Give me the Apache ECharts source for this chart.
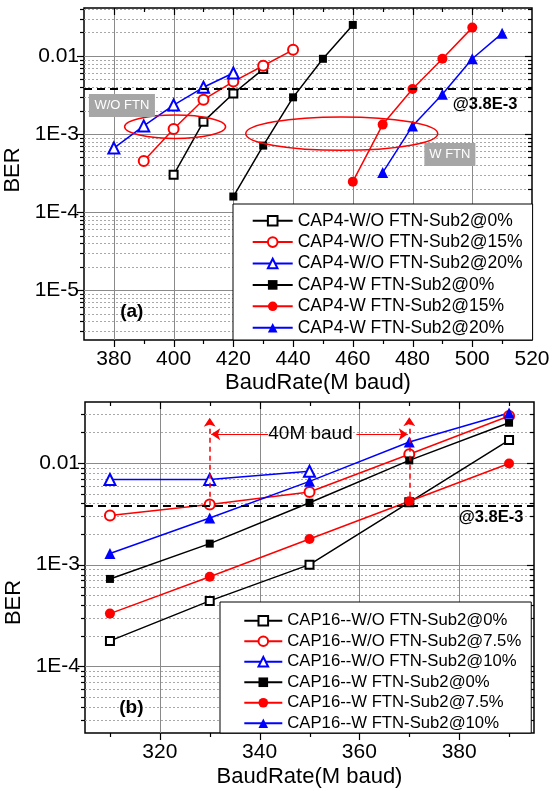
<!DOCTYPE html>
<html><head><meta charset="utf-8">
<script src="https://cdn.jsdelivr.net/npm/echarts@6/dist/echarts.min.js"></script>
<style>html,body{margin:0;padding:0;background:#fff}#c{width:553px;height:791px}</style>
</head><body><div id="c"></div>
<script>
// ---------- data: panel (a) ----------
const topNames = ['CAP4-W/O FTN-Sub2@0%','CAP4-W/O FTN-Sub2@15%','CAP4-W/O FTN-Sub2@20%','CAP4-W FTN-Sub2@0%','CAP4-W FTN-Sub2@15%','CAP4-W FTN-Sub2@20%'];
const topX_wo0  = [400, 410, 420, 430];
const topY_wo0  = [3.0e-4, 1.44e-3, 3.3e-3, 6.8e-3];
const topX_wo15 = [390, 400, 410, 420, 430, 440];
const topY_wo15 = [4.5e-4, 1.16e-3, 2.75e-3, 4.7e-3, 7.5e-3, 0.012];
const topX_wo20 = [380, 390, 400, 410, 420];
const topY_wo20 = [6.6e-4, 1.27e-3, 2.35e-3, 3.97e-3, 6.05e-3];
const topX_w0   = [420, 430, 440, 450, 460];
const topY_w0   = [1.58e-4, 7.1e-4, 2.95e-3, 9.2e-3, 0.025];
const topX_w15  = [460, 470, 480, 490, 500];
const topY_w15  = [2.45e-4, 1.32e-3, 3.77e-3, 9.2e-3, 0.0231];
const topX_w20  = [470, 480, 490, 500, 510];
const topY_w20  = [3.2e-4, 1.27e-3, 3.24e-3, 9.2e-3, 0.0195];
// ---------- data: panel (b) ----------
const botNames = ['CAP16--W/O FTN-Sub2@0%','CAP16--W/O FTN-Sub2@7.5%','CAP16--W/O FTN-Sub2@10%','CAP16--W FTN-Sub2@0%','CAP16--W FTN-Sub2@7.5%','CAP16--W FTN-Sub2@10%'];
const botX      = [310, 330, 350, 370, 390];
const botX_wo10 = [310, 330, 350];
const botY_wo0  = [1.78e-4, 4.4e-4, 1.0e-3, 4.1e-3, 0.0168];
const botY_wo75 = [3.04e-3, 3.9e-3, 5.19e-3, 0.0122, 0.029];
const botY_wo10 = [6.87e-3, 6.9e-3, 8.3e-3];
const botY_w0   = [7.24e-4, 1.61e-3, 4.07e-3, 0.0106, 0.0249];
const botY_w75  = [3.3e-4, 7.6e-4, 1.79e-3, 4.2e-3, 9.9e-3];
const botY_w10  = [1.29e-3, 2.88e-3, 6.6e-3, 0.0161, 0.031];
// ---------- axes / ticks ----------
const threshold = 3.8e-3;
const topXRange = [370, 520];
const botXRange = [305, 395];
const topXMajor = [380, 400, 420, 440, 460, 480, 500];
const topXMinor = [390, 410, 430, 450, 470, 490, 510];
const botXMajor = [320, 340, 360, 380];
const botXMinor = [310, 330, 350, 370, 390];

const FONT = 'Liberation Sans, Arial, sans-serif';
const colors = ['#000', '#ff0000', '#0000ff', '#000', '#ff0000', '#0000ff'];
const symbols = ['emptyRect', 'emptyCircle', 'emptyTriangle', 'rect', 'circle', 'triangle'];
const sizes = [8, 10, 11, 8, 10, 11];

function zip(xs, ys) { return xs.map((x, i) => [x, ys[i]]); }
function mk(name, xs, ys, k, g, extra) {
  return Object.assign({
    type: 'line', name: name, xAxisIndex: g * 2, yAxisIndex: g * 2, data: zip(xs, ys),
    symbol: symbols[k], symbolSize: sizes[k], showSymbol: true, z: 3,
    lineStyle: { color: colors[k], width: 1.5 }, itemStyle: { color: colors[k] },
    emphasis: { disabled: true }
  }, extra || {});
}
function thresholdLine(range) {
  return { silent: true, symbol: ['none', 'none'], label: { show: false },
    lineStyle: { color: '#000', type: [8, 5], width: 2 },
    data: [[{ coord: [range[0], threshold] }, { coord: [range[1], threshold] }]] };
}
function decorData(xMajors, xMinors, xLo, yLo, yHi) {
  const d = [];
  for (let e = Math.floor(Math.log10(yLo)); e <= Math.ceil(Math.log10(yHi)); e++) {
    for (let m = 1; m <= 9; m++) {
      const v = m * Math.pow(10, e);
      if (v > yLo * 1.0001 && v < yHi * 0.9999) d.push([xLo, v, m === 1 ? 1 : 0]);
    }
  }
  xMajors.forEach(x => d.push([x, yLo, 3]));
  xMinors.forEach(x => d.push([x, yLo, 2]));
  return d;
}
function renderDecor(params, api) {
  const cs = params.coordSys;
  const t = api.value(2);
  const p = api.coord([api.value(0), api.value(1)]);
  const L = cs.x, R = cs.x + cs.width, T = cs.y, B = cs.y + cs.height;
  const blk = { stroke: '#000', lineWidth: 1.2 };
  if (t <= 1) {
    const y = Math.round(p[1]) + 0.5, len = t ? 7 : 4;
    return { type: 'group', children: [
      { type: 'line', shape: { x1: L, y1: y, x2: R, y2: y },
        style: t ? { stroke: '#8a8a8a', lineWidth: 1 } : { stroke: '#a8a8a8', lineWidth: 1, lineDash: [2, 2] } },
      { type: 'line', shape: { x1: L - len, y1: y, x2: L, y2: y }, style: blk },
      { type: 'line', shape: { x1: R - len, y1: y, x2: R, y2: y }, style: blk }
    ] };
  }
  const x = Math.round(p[0]) + 0.5, len = t === 3 ? 7 : 4;
  const ch = [
    { type: 'line', shape: { x1: x, y1: B, x2: x, y2: B + len }, style: blk },
    { type: 'line', shape: { x1: x, y1: T, x2: x, y2: T + len }, style: blk }
  ];
  if (t === 3) ch.unshift({ type: 'line', shape: { x1: x, y1: T, x2: x, y2: B }, style: { stroke: '#8a8a8a', lineWidth: 1 } });
  return { type: 'group', children: ch };
}
function decenaryLabel(v) {
  const e = Math.log10(v), r = Math.round(e);
  if (Math.abs(e - r) > 1e-6) return '';
  return r === -2 ? '0.01' : '1E' + r;
}

const topYMin = 2.29e-6, topYMax = 0.0412;
const botYMin = 2.21e-5, botYMax = 0.0398;

function xAxisCfg(g, range, interval, nameGap, namePad) {
  return [{
    type: 'value', gridIndex: g, min: range[0], max: range[1], interval: interval, position: 'bottom',
    axisLine: { show: false }, axisTick: { show: false }, splitLine: { show: false },
    axisLabel: { formatter: v => (v % 20 === 0 ? String(v) : ''), fontSize: 21, fontFamily: FONT, color: '#000', margin: 9 },
    name: 'BaudRate(M baud)', nameLocation: 'middle', nameGap: nameGap,
    nameTextStyle: { fontSize: 22, fontFamily: FONT, color: '#000', padding: namePad }
  }, {
    type: 'value', gridIndex: g, min: range[0], max: range[1], interval: interval, position: 'top',
    axisLine: { show: false }, axisTick: { show: false }, splitLine: { show: false }, axisLabel: { show: false }
  }];
}
function yAxisCfg(g, min, max, nameGap, namePad) {
  return [{
    type: 'log', logBase: 10, gridIndex: g, min: min, max: max, position: 'left',
    axisLine: { show: false }, axisTick: { show: false }, splitLine: { show: false }, minorTick: { show: false },
    axisLabel: { formatter: decenaryLabel, fontSize: 21, fontFamily: FONT, color: '#000', margin: 5 },
    name: 'BER', nameLocation: 'middle', nameGap: nameGap,
    nameTextStyle: { fontSize: 22, fontFamily: FONT, color: '#000', padding: namePad }
  }, {
    type: 'log', logBase: 10, gridIndex: g, min: min, max: max, position: 'right',
    axisLine: { show: false }, axisTick: { show: false }, splitLine: { show: false }, axisLabel: { show: false }
  }];
}
function legendCfg(names, left, top, pad, fs, lh, gap, iw) {
  return {
    orient: 'vertical', left: left, top: top, data: names, selectedMode: false,
    itemWidth: iw, itemHeight: 12, itemGap: gap, padding: pad,
    backgroundColor: '#fff', borderColor: '#000', borderWidth: 1,
    textStyle: { fontSize: fs, fontFamily: FONT, color: '#000', lineHeight: lh }
  };
}

const chart = echarts.init(document.getElementById('c'), null, { renderer: 'canvas' });
chart.setOption({
  animation: false,
  backgroundColor: '#fff',
  grid: [
    { left: 84, top: 8, width: 448, height: 332, show: true, borderColor: '#000', borderWidth: 1.5, outerBoundsMode: 'none' },
    { left: 85, top: 402, width: 449, height: 331, show: true, borderColor: '#000', borderWidth: 1.5, outerBoundsMode: 'none' }
  ],
  xAxis: xAxisCfg(0, topXRange, 10, 32, [0, 0, 0, 20]).concat(xAxisCfg(1, botXRange, 5, 33, [0, 0, 0, 0])),
  yAxis: yAxisCfg(0, topYMin, topYMax, 53, [0, 0, 0, 8]).concat(yAxisCfg(1, botYMin, botYMax, 56, [0, 70, 0, 0])),
  legend: [
    legendCfg(topNames, 233, 204, [6.7, 10, 2.3, 18.7], 17.5, 20, 1.4, 40),
    legendCfg(botNames, 220, 602, [9, 10, 0, 23.3], 16.7, 19.5, 1, 38)
  ],
  series: [
    { type: 'custom', xAxisIndex: 0, yAxisIndex: 0, z: 1, silent: true, clip: false,
      dimensions: ['x', 'y', 't'], encode: { x: 0, y: 1 },
      data: decorData(topXMajor, topXMinor, topXRange[0], topYMin, topYMax), renderItem: renderDecor },
    { type: 'custom', xAxisIndex: 2, yAxisIndex: 2, z: 1, silent: true, clip: false,
      dimensions: ['x', 'y', 't'], encode: { x: 0, y: 1 },
      data: decorData(botXMajor, botXMinor, botXRange[0], botYMin, botYMax), renderItem: renderDecor },
    mk(topNames[0], topX_wo0, topY_wo0, 0, 0, { markLine: thresholdLine(topXRange) }),
    mk(topNames[1], topX_wo15, topY_wo15, 1, 0),
    mk(topNames[2], topX_wo20, topY_wo20, 2, 0),
    mk(topNames[3], topX_w0, topY_w0, 3, 0),
    mk(topNames[4], topX_w15, topY_w15, 4, 0),
    mk(topNames[5], topX_w20, topY_w20, 5, 0),
    mk(botNames[0], botX, botY_wo0, 0, 1, { markLine: thresholdLine(botXRange) }),
    mk(botNames[1], botX, botY_wo75, 1, 1),
    mk(botNames[2], botX_wo10, botY_wo10, 2, 1),
    mk(botNames[3], botX, botY_w0, 3, 1),
    mk(botNames[4], botX, botY_w75, 4, 1, {
      markLine: {
        silent: true, symbol: ['none', 'arrow'], symbolSize: 9, label: { show: false },
        lineStyle: { color: '#ff0000', width: 1.5, type: [5, 4] },
        data: [
          [{ coord: [330, threshold] }, { coord: [330, 0.0278] }],
          [{ coord: [370, threshold] }, { coord: [370, 0.0281] }],
          [{ coord: [341.7, 0.0192], lineStyle: { type: 'solid', color: '#ff0000', width: 1.2 } }, { coord: [330.3, 0.0192] }],
          [{ coord: [359.4, 0.0192], lineStyle: { type: 'solid', color: '#ff0000', width: 1.2 } }, { coord: [369.7, 0.0192] }]
        ]
      }
    }),
    mk(botNames[5], botX, botY_w10, 5, 1)
  ]
});

// ---------- annotations anchored to data coordinates ----------
function px(g, x, y) { return chart.convertToPixel({ gridIndex: g }, [x, y]); }
const e1 = px(0, 400.5, 1.24e-3), e2 = px(0, 456.3, 1.01e-3);
const b1 = px(0, 382.7, 2.32e-3), b2 = px(0, 492.5, 5.46e-4);
const t1 = px(0, 504.3, 2.36e-3), t2 = px(1, 386.4, 2.92e-3);
const la = px(0, 386, 5.2e-6), lb = px(1, 314.3, 3.95e-5);
const m40 = px(1, 350.2, 0.0192);
function txt(p, s, font, fill) {
  return { type: 'text', x: p[0], y: p[1], z: 20, style: { text: s, font: font, fill: fill || '#000', align: 'center', verticalAlign: 'middle' } };
}
function box(p, w, h, s) {
  return [
    { type: 'rect', x: p[0] - w / 2, y: p[1] - h / 2, z: 19, shape: { width: w, height: h }, style: { fill: '#a6a6a6' } },
    txt(p, s, '13px ' + FONT, '#fff')
  ];
}
chart.setOption({
  graphic: [
    { type: 'ellipse', z: 18, shape: { cx: e1[0], cy: e1[1], rx: 50.5, ry: 11.7 }, style: { fill: 'none', stroke: '#ff0000', lineWidth: 1.5 } },
    { type: 'ellipse', z: 18, shape: { cx: e2[0], cy: e2[1], rx: 96, ry: 16.7 }, style: { fill: 'none', stroke: '#ff0000', lineWidth: 1.5 } }
  ].concat(box(b1, 66, 23, 'W/O FTN'), box(b2, 51, 23, 'W FTN'), [
    txt(t1, '@3.8E-3', 'bold 16.5px ' + FONT),
    txt(t2, '@3.8E-3', 'bold 16.5px ' + FONT),
    txt(la, '(a)', 'bold 19px ' + FONT),
    txt(lb, '(b)', 'bold 19px ' + FONT),
    txt(m40, '40M baud', '19px ' + FONT)
  ])
});
</script>
</body></html>
